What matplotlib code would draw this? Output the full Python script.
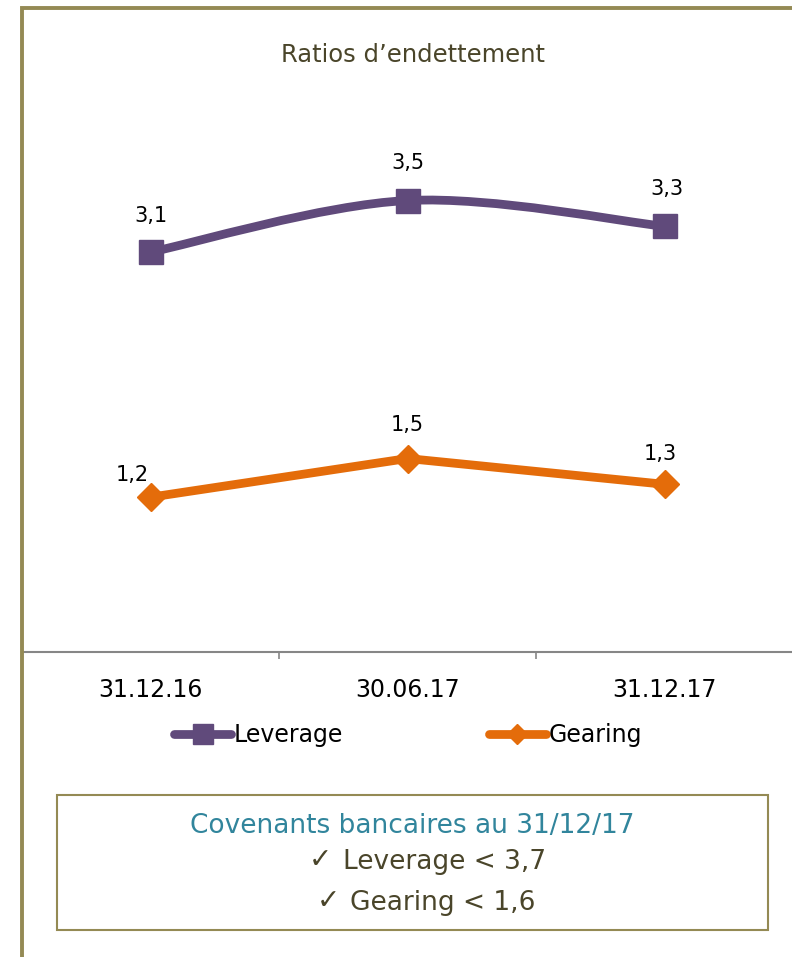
import matplotlib.pyplot as plt
from matplotlib.path import Path
from matplotlib.patches import PathPatch, Rectangle
from matplotlib.lines import Line2D

plt.rcParams["font.family"] = ["DejaVu Sans"]

# debt ratios per closing date
dates = ["31.12.16", "30.06.17", "31.12.17"]
leverage = [3.1, 3.5, 3.3]
gearing = [1.2, 1.5, 1.3]
leverage_labels = ["3,1", "3,5", "3,3"]
gearing_labels = ["1,2", "1,5", "1,3"]

purple = "#604A7B"
orange = "#E46C0A"
olive = "#948A54"
dark_olive = "#4A452A"
teal = "#31859C"

W, H = 792, 957
fig = plt.figure(figsize=(W / 100, H / 100), dpi=100)
fig.patch.set_facecolor("white")

# outer frame (runs off the right and bottom edges)
fig.patches.append(Rectangle((22 / W, -0.1), 1.2, 1 - 8 / H + 0.1,
                             transform=fig.transFigure, fill=False,
                             edgecolor=olive, lw=2.8, zorder=0))

ax = fig.add_axes([22 / W, 1 - 652 / H, 771 / W, 516 / H])
ax.set_facecolor("none")
x = list(range(len(dates)))
ax.set_xlim(-0.5, 2.5)
ax.set_ylim(0, 4)

for s in ["top", "right", "left"]:
    ax.spines[s].set_visible(False)
ax.spines["bottom"].set_color("#868686")
ax.spines["bottom"].set_linewidth(1.5)
ax.set_yticks([])
ax.set_xticks([0.5, 1.5], minor=False)
ax.set_xticklabels([])
ax.tick_params(axis="x", which="major", length=5, width=1.2, color="#868686",
               direction="out")
ax.set_xticks(x, minor=True)
ax.set_xticklabels(dates, minor=True, fontsize=17, color="black")
ax.tick_params(axis="x", which="minor", length=0, pad=19)


# smoothed leverage line (Catmull-Rom as cubic Bezier segments)
def smooth_path(xs, ys):
    pts = list(zip(xs, ys))
    verts = [pts[0]]
    codes = [Path.MOVETO]
    n = len(pts)
    for i in range(n - 1):
        p0 = pts[max(i - 1, 0)]
        p1 = pts[i]
        p2 = pts[i + 1]
        p3 = pts[min(i + 2, n - 1)]
        c1 = (p1[0] + (p2[0] - p0[0]) / 6, p1[1] + (p2[1] - p0[1]) / 6)
        c2 = (p2[0] - (p3[0] - p1[0]) / 6, p2[1] - (p3[1] - p1[1]) / 6)
        verts += [c1, c2, p2]
        codes += [Path.CURVE4] * 3
    return Path(verts, codes)


ax.add_patch(PathPatch(smooth_path(x, leverage), fill=False, edgecolor=purple,
                       lw=6.3, capstyle="round", joinstyle="round", zorder=3))
ax.plot(x, leverage, ls="none", marker="s", markersize=17, color=purple,
        zorder=4, clip_on=False)

ax.plot(x, gearing, color=orange, lw=6.3, marker="D", markersize=14.5,
        solid_capstyle="round", solid_joinstyle="round", zorder=4, clip_on=False)

# data labels
lev_offsets = [(0, 26), (0, 27), (2, 27)]
gear_offsets = [(-13, 16), (0, 24), (-3, 22)]
for xi, v, lab, off in zip(x, leverage, leverage_labels, lev_offsets):
    ax.annotate(lab, (xi, v), xytext=off, textcoords="offset points",
                ha="center", va="center", fontsize=15, color="black")
for xi, v, lab, off in zip(x, gearing, gearing_labels, gear_offsets):
    ax.annotate(lab, (xi, v), xytext=off, textcoords="offset points",
                ha="center", va="center", fontsize=15, color="black")

fig.text(413 / W, 1 - 55 / H, "Ratios d\u2019endettement", ha="center",
         va="center", fontsize=17.5, color=dark_olive)

# legend
handles = [
    Line2D([], [], color=purple, lw=6.3, marker="s", markersize=14,
           solid_capstyle="round"),
    Line2D([], [], color=orange, lw=6.3, marker="D", markersize=10,
           solid_capstyle="round"),
]
fig.legend(handles, ["Leverage", "Gearing"], loc="center",
           bbox_to_anchor=(408 / W, 1 - 735 / H), ncol=2, frameon=False,
           fontsize=17, handlelength=2.4, handletextpad=0.1,
           columnspacing=6.2)

# covenants box
fig.patches.append(Rectangle((57 / W, 1 - 930 / H), 711 / W, 135 / H,
                             transform=fig.transFigure, fill=False,
                             edgecolor=olive, lw=1.5))
fig.text(412 / W, 1 - 826 / H, "Covenants bancaires au 31/12/17",
         ha="center", va="center", fontsize=19, color=teal)
fig.text(320 / W, 1 - 860 / H, "\u2713", ha="center", va="center",
         fontsize=20, color=dark_olive)
fig.text(343 / W, 1 - 862 / H, "Leverage < 3,7",
         ha="left", va="center", fontsize=19, color=dark_olive)
fig.text(328 / W, 1 - 901 / H, "\u2713", ha="center", va="center",
         fontsize=20, color=dark_olive)
fig.text(350 / W, 1 - 903 / H, "Gearing < 1,6",
         ha="left", va="center", fontsize=19, color=dark_olive)

fig.savefig("out.png", dpi=100, facecolor="white")
